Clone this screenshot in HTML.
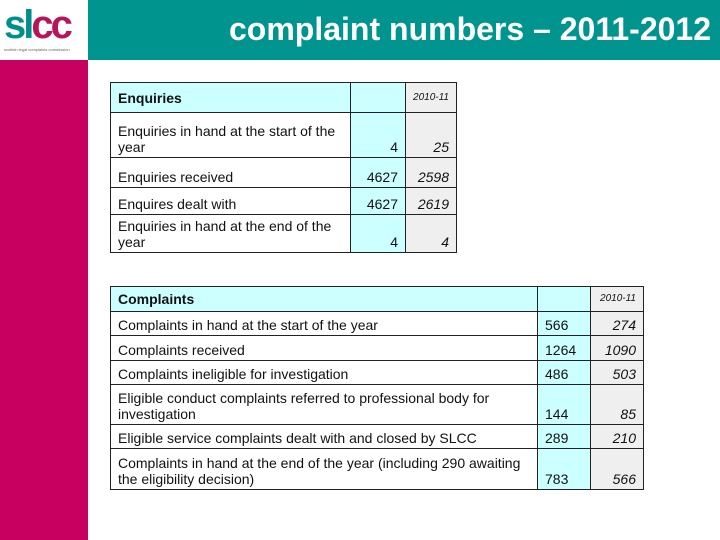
<!DOCTYPE html>
<html><head><meta charset="utf-8"><style>
body{margin:0;width:720px;height:540px;position:relative;background:#fff;font-family:"Liberation Sans",Arial,sans-serif;overflow:hidden}
.abs{position:absolute}
table{position:absolute;border-collapse:collapse;font-size:14px;color:#111}
td{border:1px solid #222;padding:0 7px;vertical-align:bottom;padding-bottom:2px;line-height:16px}
.c{background:#ccffff}.g{background:#efefef;text-align:right;font-style:italic}
.n{text-align:right}
.h td{vertical-align:middle;padding-bottom:0}
</style></head><body>
<div class="abs" style="left:88px;top:0;width:632px;height:60px;background:#00948f"></div>
<div class="abs" style="left:0;top:60px;width:88px;height:480px;background:#c8005f"></div>
<div class="abs" style="left:4px;top:6px;width:82px;height:50px">
<div style="font-size:40px;font-weight:bold;letter-spacing:-3px;line-height:38px"><span style="color:#008f8a">sl</span><span style="color:#b8145c">cc</span></div>
<div style="font-size:4px;color:#666;margin-top:3px">scottish legal complaints commission</div></div>
<div class="abs" style="left:229px;top:11px;font-size:32px;font-weight:bold;color:#fff;white-space:nowrap">complaint numbers – 2011-2012</div>

<table style="left:110px;top:82px;width:347px">
<colgroup><col style="width:240px"><col style="width:55px"><col style="width:51px"></colgroup>
<tr class="h" style="height:30px"><td class="c" style="font-weight:bold">Enquiries</td><td class="c"></td><td class="g" style="font-size:10px">2010-11</td></tr>
<tr style="height:45px"><td>Enquiries in hand at the start of the year</td><td class="c n">4</td><td class="g">25</td></tr>
<tr style="height:30px"><td>Enquiries received</td><td class="c n">4627</td><td class="g">2598</td></tr>
<tr style="height:27px"><td>Enquires dealt with</td><td class="c n">4627</td><td class="g">2619</td></tr>
<tr style="height:38px"><td>Enquiries in hand at the end of the year</td><td class="c n">4</td><td class="g">4</td></tr>
</table>

<table style="left:110px;top:286px;width:534px">
<colgroup><col style="width:427px"><col style="width:53px"><col style="width:53px"></colgroup>
<tr class="h" style="height:25px"><td class="c" style="font-weight:bold">Complaints</td><td class="c"></td><td class="g" style="font-size:10px">2010-11</td></tr>
<tr style="height:24px"><td>Complaints in hand at the start of the year</td><td class="c">566</td><td class="g">274</td></tr>
<tr style="height:25px"><td>Complaints received</td><td class="c">1264</td><td class="g">1090</td></tr>
<tr style="height:24px"><td>Complaints ineligible for investigation</td><td class="c">486</td><td class="g">503</td></tr>
<tr style="height:40px"><td>Eligible conduct complaints referred to professional body for investigation</td><td class="c">144</td><td class="g">85</td></tr>
<tr style="height:24px"><td>Eligible service complaints dealt with and closed by SLCC</td><td class="c">289</td><td class="g">210</td></tr>
<tr style="height:41px"><td>Complaints in hand at the end of the year (including 290 awaiting the eligibility decision)</td><td class="c">783</td><td class="g">566</td></tr>
</table>
</body></html>
